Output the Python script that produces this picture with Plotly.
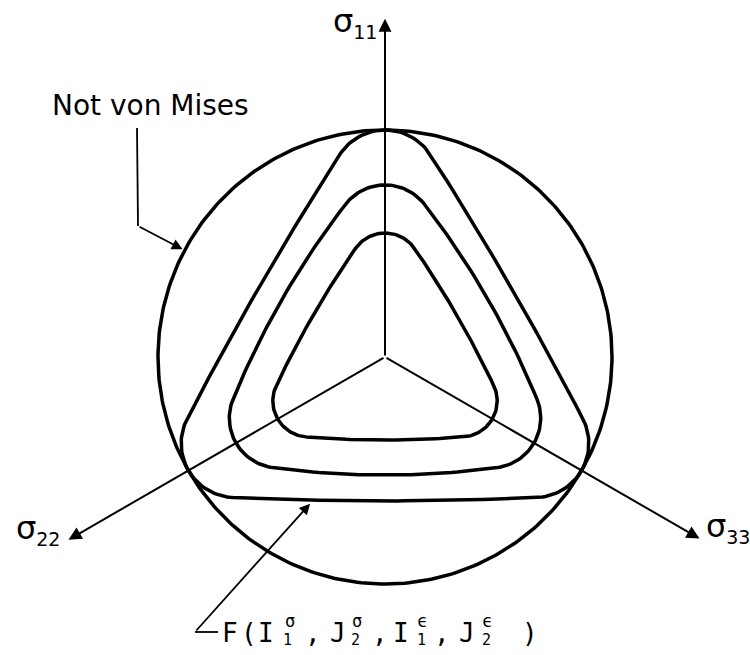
import numpy as np
import plotly.graph_objects as go

# deviatoric plane, von Mises circle radius = 1
circle_radius = 1.0
# rounded-triangle surfaces: distance from origin to apex, to the side, corner radius
surface_apex = [0.546, 0.758, 1.0]
surface_side = [0.366, 0.520, 0.634]
surface_corner = [0.159, 0.220, 0.238]
# principal stress axes
axis_labels = ["σ<sub><span style='font-size:19px'>11</span></sub>",
               "σ<sub><span style='font-size:19px'>22</span></sub>",
               "σ<sub><span style='font-size:19px'>33</span></sub>"]
axis_angles = [90, 210, 330]
axis_lengths = [1.49, 1.61, 1.60]
circle_label = "Not von Mises"

CX, CY, SCALE = 385, 357, 227  # pixel position of origin, pixels per unit
W, H = 750, 655


def px(x, y):
    return (x - CX) / SCALE, (CY - y) / SCALE


def u(t):
    return np.array([np.cos(t), np.sin(t)])


def rounded_triangle(A, s, d, n=40):
    # slightly convex side arcs (radius Rs) joined by corner arcs (radius d)
    a = A - d
    b = ((s - d) ** 2 - a ** 2) / (a - 2 * (s - d))
    Rs = b + s
    info = []
    for psi in np.radians([270, 390, 510]):
        C = -b * u(psi)
        angs = []
        for off in (-np.pi / 3, np.pi / 3):
            v = a * u(psi + off) - C
            rel = (np.arctan2(v[1], v[0]) - psi + np.pi) % (2 * np.pi) - np.pi
            angs.append(psi + rel)
        info.append((C, angs[0], angs[1], a * u(psi + np.pi / 3)))
    xs, ys = [], []
    for k, (C, a1, a2, P2) in enumerate(info):
        t = np.linspace(a1, a2, n)
        xs.extend(C[0] + Rs * np.cos(t))
        ys.extend(C[1] + Rs * np.sin(t))
        a1n = info[(k + 1) % 3][1] + (2 * np.pi if k == 2 else 0)
        t = np.linspace(a2, a1n, n)
        xs.extend(P2[0] + d * np.cos(t))
        ys.extend(P2[1] + d * np.sin(t))
    xs.append(xs[0])
    ys.append(ys[0])
    return xs, ys


fig = go.Figure()
line = dict(color="black", width=3.5)

th = np.linspace(0, 2 * np.pi, 361)
fig.add_trace(go.Scatter(x=circle_radius * np.cos(th), y=circle_radius * np.sin(th),
                         mode="lines", line=line, hoverinfo="skip"))
for A, s, d in zip(surface_apex, surface_side, surface_corner):
    xs, ys = rounded_triangle(A, s, d)
    fig.add_trace(go.Scatter(x=xs, y=ys, mode="lines", line=line, hoverinfo="skip"))

# axes with arrows
label_pos = [(331, 22), (14, 529), (704, 527)]
for ang, length, label, (lx, ly) in zip(axis_angles, axis_lengths, axis_labels, label_pos):
    t = np.radians(ang)
    fig.add_annotation(x=length * np.cos(t), y=length * np.sin(t), ax=0, ay=0,
                       xref="x", yref="y", axref="x", ayref="y", text="",
                       showarrow=True, arrowhead=2, arrowsize=1.3, arrowwidth=2,
                       arrowcolor="black")
    x, y = px(lx, ly)
    fig.add_annotation(x=x, y=y, text=label, showarrow=False, xanchor="left",
                       font=dict(family="DejaVu Sans", size=32, color="black"))

# "Not von Mises" leader
p0, p1 = px(137, 128), px(138, 226)
t = np.radians(152)
tip = (circle_radius * np.cos(t) * 1.01, circle_radius * np.sin(t) * 1.01)
fig.add_trace(go.Scatter(x=[p0[0], p1[0]], y=[p0[1], p1[1]], mode="lines",
                         line=dict(color="black", width=1.8), hoverinfo="skip"))
fig.add_annotation(x=tip[0], y=tip[1], ax=p1[0], ay=p1[1], xref="x", yref="y",
                   axref="x", ayref="y", text="", showarrow=True, arrowhead=2,
                   arrowsize=1.2, arrowwidth=1.8, arrowcolor="black")
x, y = px(150, 105)
fig.add_annotation(x=x, y=y, text=circle_label, showarrow=False,
                   font=dict(family="DejaVu Sans", size=28, color="black"))

# F(...) leader
q0, q1 = px(218, 632), px(195, 632)
ftip = (-0.33, -surface_side[2] - 0.012)
fig.add_trace(go.Scatter(x=[q0[0], q1[0]], y=[q0[1], q1[1]], mode="lines",
                         line=dict(color="black", width=1.8), hoverinfo="skip"))
fig.add_annotation(x=ftip[0], y=ftip[1], ax=q1[0], ay=q1[1], xref="x", yref="y",
                   axref="x", ayref="y", text="", showarrow=True, arrowhead=2,
                   arrowsize=1.2, arrowwidth=1.8, arrowcolor="black")

# F(I1^σ, J2^σ, I1^ϵ, J2^ϵ) built glyph by glyph
mono = "DejaVu Sans Mono"
main = [("F", 230), ("(", 249), ("I", 266), (",", 313), ("J", 338), (",", 380),
        ("I", 401), (",", 442), ("J", 467), (")", 530)]
sups = [("σ", 290), ("σ", 357), ("ϵ", 422), ("ϵ", 487)]
subs = [("1", 287), ("2", 355), ("1", 421), ("2", 486)]
for ch, gx in main:
    x, y = px(gx, 633)
    fig.add_annotation(x=x, y=y, text=ch, showarrow=False,
                       font=dict(family=mono, size=26, color="black"))
for ch, gx in sups:
    x, y = px(gx, 621)
    fig.add_annotation(x=x, y=y, text=ch, showarrow=False,
                       font=dict(family=mono, size=17, color="black"))
for ch, gx in subs:
    x, y = px(gx, 640)
    fig.add_annotation(x=x, y=y, text=ch, showarrow=False,
                       font=dict(family=mono, size=15, color="black"))

x0, y0 = px(0, 0)
x1, y1 = px(W, H)
fig.update_layout(
    width=W, height=H, margin=dict(l=0, r=0, t=0, b=0),
    showlegend=False, plot_bgcolor="white", paper_bgcolor="white",
    xaxis=dict(range=[x0, x1], visible=False),
    yaxis=dict(range=[y1, y0], visible=False),
)
fig.write_html("out.html", config={"displayModeBar": False},
               post_script="document.body.style.margin = '0';")
